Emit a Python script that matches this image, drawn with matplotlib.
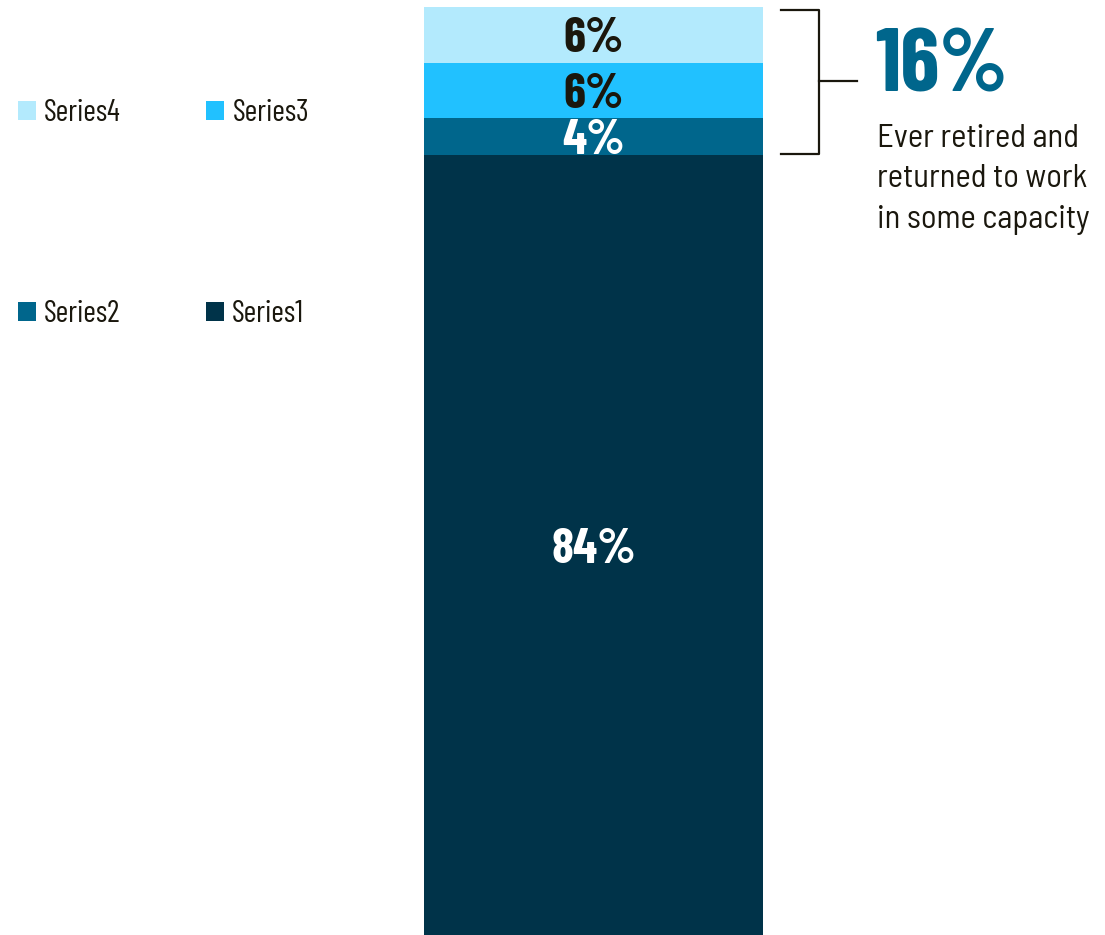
import matplotlib
matplotlib.use("Agg")
import matplotlib.pyplot as plt
from matplotlib.patches import Patch
from matplotlib.transforms import blended_transform_factory

# Data
series_names = ["Series1", "Series2", "Series3", "Series4"]
values = [84, 4, 6, 6]
colors = ["#003349", "#00668c", "#21c1ff", "#b3eafd"]
label_colors = ["white", "white", "#1a170d", "#1a170d"]
total_returned = 16
callout_lines = ["Ever retired and", "returned to work", "in some capacity"]

FAM = ["Barlow Condensed", "Roboto", "DejaVu Sans"]
FAM_SEMI = ["Barlow Semi Condensed", "Roboto", "DejaVu Sans"]
plt.rcParams["font.family"] = FAM
TXT = "#1a170d"

W, H = 1105, 935
fig = plt.figure(figsize=(W / 100, H / 100), dpi=100)

# axes holding the single stacked bar
ax = fig.add_axes([424 / W, 0, (763 - 424) / W, (935 - 7) / H])
ax.set_xlim(-0.5, 0.5)
ax.set_ylim(0, sum(values))
ax.axis("off")

bottom = 0
for name, v, c, lc in zip(series_names, values, colors, label_colors):
    ax.bar(0, v, width=1.0, bottom=bottom, color=c, label=name, linewidth=0)
    ax.text(0, bottom + v / 2, f"{v}%", ha="center", va="center_baseline",
            fontsize=36, fontweight="bold", color=lc)
    bottom += v

# bracket grouping the upper segments
tr = blended_transform_factory(fig.transFigure, ax.transData)
x0, x1, x2 = 781 / W, 819 / W, 857 / W
lo, hi = values[0] + 0.2, sum(values) - 0.3
mid = (values[0] + sum(values)) / 2
ax.plot([x0, x1, x1, x0], [hi, hi, lo, lo], color=TXT, lw=1.6,
        transform=tr, clip_on=False)
ax.plot([x1, x2], [mid, mid], color=TXT, lw=1.6, transform=tr, clip_on=False)

fig.text(875 / W, 1 - 92 / H, f"{total_returned}%", fontsize=64,
         fontweight="bold", color="#00668c", ha="left", va="baseline")
for line, base in zip(callout_lines, (147, 187, 228)):
    fig.text(877 / W, 1 - base / H, line, fontsize=23.5, color=TXT,
             ha="left", va="baseline", family=FAM_SEMI)

# legend in two rows
handles = {n: Patch(facecolor=c, edgecolor="none") for n, c in zip(series_names, colors)}
for row, y in ((["Series4", "Series3"], 113), (["Series2", "Series1"], 314)):
    leg = fig.legend([handles[n] for n in row], row, ncol=2,
                     loc="center left", bbox_to_anchor=(18 / W, 1 - y / H),
                     borderaxespad=0, borderpad=0,
                     frameon=False, fontsize=22, handlelength=0.59,
                     handleheight=0.59, handletextpad=0.26, columnspacing=2.8)
    for t in leg.get_texts():
        t.set_color(TXT)

fig.savefig("out.png", dpi=100, facecolor="white")
